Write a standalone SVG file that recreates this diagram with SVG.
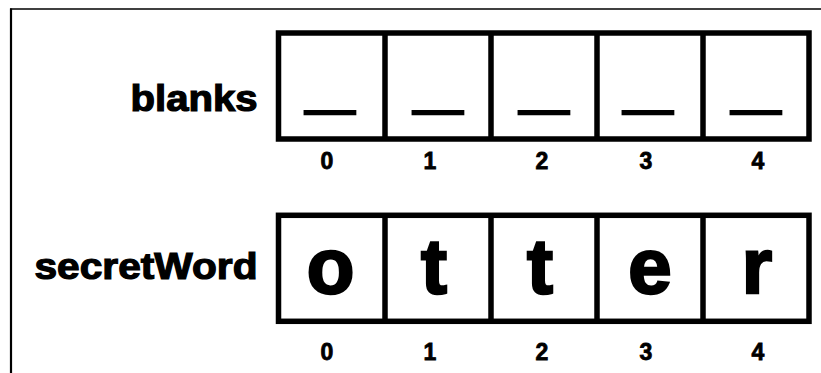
<svg xmlns="http://www.w3.org/2000/svg" width="821" height="373" viewBox="0 0 821 373">
<style>
.box{fill:#fff;stroke:#000;stroke-width:5.5}
.div{stroke:#000;stroke-width:5.5}
.lbl{font-family:"Liberation Sans",Arial,sans-serif;font-weight:bold;font-size:36px;fill:#000;stroke:#000;stroke-width:1.2}
.idx{font-family:"Liberation Sans",Arial,sans-serif;font-weight:bold;font-size:23px;fill:#000;text-anchor:middle;stroke:#000;stroke-width:0.8}
.ch{font-family:"Liberation Sans",Arial,sans-serif;font-weight:bold;font-size:78px;fill:#000;text-anchor:middle;stroke:#000;stroke-width:2.5}
.us{font-family:"Liberation Sans",Arial,sans-serif;font-weight:bold;font-size:70px;fill:#000;stroke:#000;stroke-width:2.6}
</style>
<rect width="821" height="373" fill="#fff"/>
<g id="frame">
<line x1="10" y1="9" x2="821" y2="9" stroke="#000" stroke-width="1.5"/>
<line x1="11" y1="8.5" x2="11" y2="373" stroke="#000" stroke-width="2.2"/>
</g>
<g id="blanks">
<text class="lbl" x="257.5" y="111" text-anchor="end" textLength="127" lengthAdjust="spacingAndGlyphs">blanks</text>
<rect class="box" x="278.5" y="33" width="530.5" height="106"/>
<line class="div" x1="385" y1="33" x2="385" y2="139"/>
<line class="div" x1="491" y1="33" x2="491" y2="139"/>
<line class="div" x1="597" y1="33" x2="597" y2="139"/>
<line class="div" x1="703" y1="33" x2="703" y2="139"/>
<text class="us" x="306" y="104.5" textLength="48" lengthAdjust="spacingAndGlyphs">_</text>
<text class="us" x="414" y="104.5" textLength="48" lengthAdjust="spacingAndGlyphs">_</text>
<text class="us" x="520" y="104.5" textLength="48" lengthAdjust="spacingAndGlyphs">_</text>
<text class="us" x="624" y="104.5" textLength="48" lengthAdjust="spacingAndGlyphs">_</text>
<text class="us" x="732" y="104.5" textLength="48" lengthAdjust="spacingAndGlyphs">_</text>
<text class="idx" x="327" y="169">0</text>
<text class="idx" x="430" y="169">1</text>
<text class="idx" x="542" y="169">2</text>
<text class="idx" x="646" y="169">3</text>
<text class="idx" x="758" y="169">4</text>
</g>
<g id="secretWord">
<text class="lbl" x="257.5" y="279" text-anchor="end" textLength="223" lengthAdjust="spacingAndGlyphs">secretWord</text>
<rect class="box" x="278.5" y="215.3" width="530.5" height="106"/>
<line class="div" x1="385" y1="215.3" x2="385" y2="321.3"/>
<line class="div" x1="491" y1="215.3" x2="491" y2="321.3"/>
<line class="div" x1="597" y1="215.3" x2="597" y2="321.3"/>
<line class="div" x1="703" y1="215.3" x2="703" y2="321.3"/>
<text class="ch" x="330.5" y="293">o</text>
<text class="ch" x="434" y="293">t</text>
<text class="ch" x="540" y="293">t</text>
<text class="ch" x="650" y="293">e</text>
<text class="ch" x="757" y="293">r</text>
<text class="idx" x="327" y="360">0</text>
<text class="idx" x="430" y="360">1</text>
<text class="idx" x="542" y="360">2</text>
<text class="idx" x="646" y="360">3</text>
<text class="idx" x="758" y="360">4</text>
</g>
</svg>
